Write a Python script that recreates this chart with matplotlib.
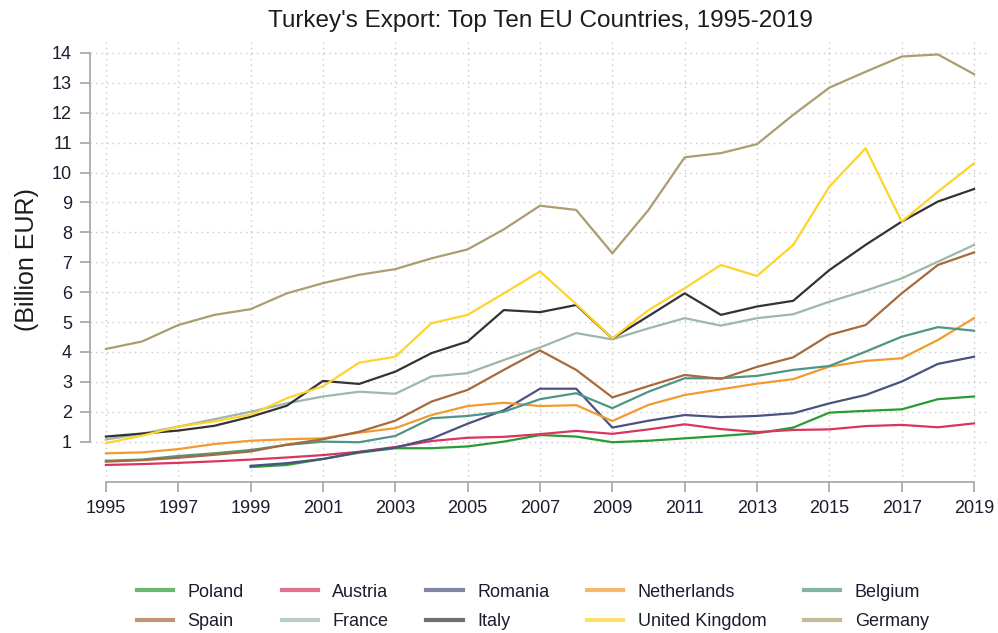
import numpy as np
import matplotlib
matplotlib.use("Agg")
import matplotlib.pyplot as plt
from matplotlib.lines import Line2D

plt.rcParams['font.family'] = ['Liberation Sans', 'DejaVu Sans']

# --- datos (miles de millones de EUR) ---
anios = list(range(1995, 2020))
nan = np.nan

poland = [nan, nan, nan, nan, 0.15, 0.22, 0.42, 0.63, 0.78, 0.78, 0.84, 1.0, 1.22, 1.17, 0.98,
          1.03, 1.11, 1.19, 1.28, 1.47, 1.97, 2.03, 2.08, 2.42, 2.51]
austria = [0.22, 0.25, 0.29, 0.34, 0.40, 0.47, 0.55, 0.66, 0.82, 1.02, 1.13, 1.16, 1.25, 1.36, 1.26,
           1.41, 1.58, 1.42, 1.32, 1.39, 1.41, 1.52, 1.56, 1.48, 1.61]
romania = [nan, nan, nan, nan, 0.19, 0.28, 0.42, 0.65, 0.80, 1.10, 1.60, 2.05, 2.77, 2.77, 1.47,
           1.70, 1.89, 1.82, 1.86, 1.95, 2.28, 2.56, 3.01, 3.60, 3.84]
netherlands = [0.61, 0.64, 0.75, 0.92, 1.03, 1.08, 1.11, 1.30, 1.45, 1.89, 2.19, 2.30, 2.19, 2.22, 1.69,
               2.23, 2.56, 2.75, 2.94, 3.09, 3.51, 3.70, 3.79, 4.40, 5.13]
belgium = [0.36, 0.40, 0.52, 0.61, 0.72, 0.89, 1.0, 0.98, 1.19, 1.78, 1.86, 2.0, 2.42, 2.62, 2.12,
           2.67, 3.12, 3.12, 3.20, 3.40, 3.53, 4.01, 4.51, 4.83, 4.71]
spain = [0.33, 0.38, 0.46, 0.56, 0.67, 0.90, 1.08, 1.33, 1.70, 2.34, 2.73, 3.40, 4.05, 3.40, 2.48,
         2.86, 3.23, 3.10, 3.50, 3.82, 4.57, 4.90, 5.96, 6.91, 7.33]
france = [1.07, 1.27, 1.50, 1.75, 2.0, 2.28, 2.51, 2.67, 2.60, 3.18, 3.29, 3.73, 4.15, 4.63, 4.42,
          4.79, 5.13, 4.88, 5.13, 5.26, 5.68, 6.05, 6.46, 7.02, 7.58]
italy = [1.17, 1.27, 1.37, 1.53, 1.83, 2.20, 3.03, 2.93, 3.34, 3.96, 4.35, 5.40, 5.33, 5.57, 4.45,
         5.20, 5.96, 5.24, 5.52, 5.71, 6.74, 7.58, 8.36, 9.03, 9.45]
uk = [0.95, 1.20, 1.50, 1.68, 1.90, 2.45, 2.85, 3.64, 3.84, 4.96, 5.24, 5.96, 6.69, 5.60, 4.45,
      5.40, 6.13, 6.91, 6.54, 7.58, 9.53, 10.81, 8.36, 9.36, 10.31]
germany = [4.10, 4.35, 4.90, 5.24, 5.43, 5.96, 6.30, 6.58, 6.77, 7.13, 7.43, 8.10, 8.89, 8.75, 7.30,
           8.75, 10.51, 10.65, 10.95, 11.93, 12.84, 13.37, 13.88, 13.95, 13.29]

paises = ["Poland", "Austria", "Romania", "Netherlands", "Belgium",
          "Spain", "France", "Italy", "United Kingdom", "Germany"]
series = [poland, austria, romania, netherlands, belgium, spain, france, italy, uk, germany]
colores = ["#2a9a32", "#d8365f", "#4a5280", "#f39a2e", "#4f9585",
           "#a66a3c", "#9bb8aa", "#333333", "#ffd42a", "#ab9d70"]

# --- figura ---
fig = plt.figure(figsize=(9.98, 6.33), dpi=100)
ax = fig.add_axes([90 / 998, 1 - 482 / 633, 900 / 998, 444 / 633])

for nombre, valores, color in zip(paises, series, colores):
    ax.plot(anios, valores, color=color, lw=1.6, label=nombre)

ax.set_xlim(1994.56, 2019.44)
ax.set_ylim(-0.35, 14.5)

ax.set_xticks(range(1995, 2020, 2))
ax.set_yticks(range(1, 15))
ax.grid(True, linestyle=(0, (1, 3)), color="#c8c8c8", lw=1.0)

for lado in ["top", "right"]:
    ax.spines[lado].set_visible(False)
ax.spines["left"].set_bounds(1, 14)
ax.spines["bottom"].set_bounds(1995, 2019)
for lado in ["left", "bottom"]:
    ax.spines[lado].set_color("#aaaaaa")
    ax.spines[lado].set_linewidth(1.3)

ax.tick_params(axis="both", colors="#aaaaaa", length=7, width=1.3, labelsize=13,
               labelcolor="#1c1c30", pad=6)

ax.set_ylabel("(Billion EUR)", fontsize=18, color="#1c1c1c", labelpad=9)
ax.set_title("Turkey's Export: Top Ten EU Countries, 1995-2019", fontsize=17.5,
             color="#1c1c1c", pad=8)

# leyenda en dos filas (orden por columnas)
orden = [0, 5, 1, 6, 2, 7, 3, 8, 4, 9]
manejadores = [Line2D([], [], color=colores[i], lw=3, alpha=0.7) for i in orden]
etiquetas = [paises[i] for i in orden]
fig.legend(manejadores, etiquetas, loc="center", bbox_to_anchor=(0.534, 1 - 607 / 633),
           ncol=5, frameon=False, fontsize=13, handlelength=2.0, handletextpad=0.8,
           columnspacing=2.1, labelspacing=0.7, labelcolor="#1c1c30")

fig.savefig("out.png", dpi=100)
